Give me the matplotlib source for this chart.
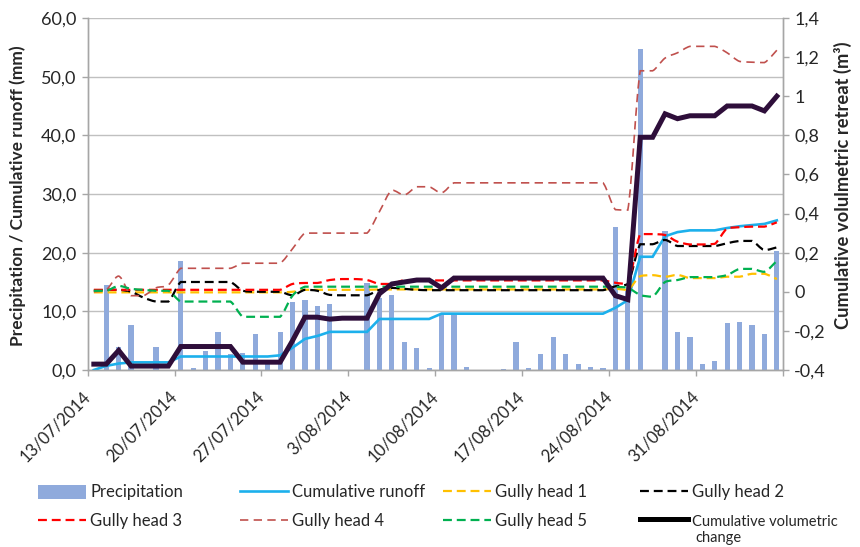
import numpy as np
import matplotlib
matplotlib.use("Agg")
import matplotlib.pyplot as plt
from matplotlib.path import Path
from matplotlib.patches import PathPatch, Patch
from matplotlib.lines import Line2D
from matplotlib.transforms import ScaledTranslation

plt.rcParams['font.family'] = ['Lato', 'DejaVu Sans']

# Daily series, 13/07/2014 .. 06/09/2014 (56 days)
date_labels = ["13/07/2014", "20/07/2014", "27/07/2014", "3/08/2014",
               "10/08/2014", "17/08/2014", "24/08/2014", "31/08/2014"]

precipitation = [0.0, 14.5, 4.0, 7.7, 0.0, 4.0, 0.0, 18.6, 0.3, 3.2,
                 6.5, 2.7, 2.9, 6.2, 1.2, 6.5, 11.6, 12.0, 10.9, 11.2,
                 0.0, 0.0, 14.9, 12.2, 12.8, 4.7, 3.8, 0.3, 9.4, 9.4,
                 0.5, 0.0, 0.0, 0.2, 4.8, 0.3, 2.8, 5.7, 2.7, 1.0,
                 0.5, 0.3, 24.3, 13.5, 54.8, 0.0, 23.7, 6.4, 5.6, 1.1,
                 1.5, 8.0, 8.2, 7.7, 6.2, 20.3]

cumulative_runoff = [0.0, 0.7, 1.1, 1.3, 1.3, 1.3, 1.3, 2.3, 2.3, 2.3,
                     2.3, 2.3, 2.3, 2.3, 2.3, 2.5, 3.8, 5.3, 5.8, 6.5,
                     6.5, 6.5, 6.5, 8.7, 8.7, 8.7, 8.7, 8.7, 9.6, 9.6,
                     9.6, 9.6, 9.6, 9.6, 9.6, 9.6, 9.6, 9.6, 9.6, 9.6,
                     9.6, 9.6, 10.6, 11.9, 19.3, 19.3, 22.8, 23.5, 23.8, 23.8,
                     23.8, 24.2, 24.5, 24.7, 24.9, 25.5]

gully_head_1 = [-0.003] * 16 + [0.0, 0.01, 0.01, 0.01, 0.01, 0.01, 0.01] + \
               [0.012] * 19 + [0.015, 0.01, 0.08, 0.085, 0.077, 0.086, 0.07,
                               0.07, 0.07, 0.077, 0.077, 0.092, 0.092, 0.065]

gully_head_2 = [0.005, 0.01, 0.01, 0.0, -0.03, -0.05, -0.05, 0.05, 0.05, 0.05,
                0.05, 0.05, 0.005, 0.0, 0.0, 0.0, -0.018, 0.01, 0.005, -0.016,
                -0.018, -0.018, -0.018, 0.01, 0.02, 0.015, 0.01] + \
               [0.008] * 15 + [0.028, 0.04, 0.243, 0.243, 0.265, 0.234, 0.234,
                               0.234, 0.234, 0.248, 0.26, 0.26, 0.213, 0.227]

gully_head_3 = [0.01] * 16 + [0.04, 0.045, 0.045, 0.06, 0.065, 0.065, 0.06,
                              0.04, 0.04, 0.06] + \
               [0.058] * 16 + [0.046, 0.04, 0.295, 0.295, 0.29, 0.256, 0.242,
                               0.242, 0.245, 0.324, 0.33, 0.333, 0.333, 0.355]

gully_head_4 = [0.0, 0.01, 0.08, -0.02, -0.02, 0.02, 0.035, 0.12, 0.12, 0.12,
                0.12, 0.12, 0.146, 0.146, 0.146, 0.146, 0.22, 0.30, 0.30, 0.30,
                0.30, 0.30, 0.30, 0.41, 0.52, 0.495, 0.537, 0.537, 0.506, 0.557] + \
               [0.557] * 12 + [0.42, 0.418, 1.13, 1.13, 1.195, 1.222, 1.255,
                               1.255, 1.255, 1.222, 1.178, 1.174, 1.172, 1.235]

gully_head_5 = [0.005, 0.005, 0.03, 0.015, 0.01, 0.005, 0.005, -0.05, -0.05, -0.05,
                -0.05, -0.05, -0.128, -0.128, -0.128, -0.128, -0.02] + \
               [0.026] * 25 + [0.025, 0.02, -0.016, -0.025, 0.05, 0.06, 0.075,
                               0.075, 0.075, 0.086, 0.117, 0.117, 0.102, 0.158]

volumetric_change = [-0.37, -0.37, -0.30, -0.38, -0.38, -0.38, -0.38, -0.28, -0.28, -0.28,
                     -0.28, -0.28, -0.36, -0.36, -0.36, -0.36, -0.25, -0.13, -0.13, -0.14,
                     -0.135, -0.135, -0.135, -0.01, 0.04, 0.05, 0.06, 0.06, 0.02, 0.07] + \
                    [0.07] * 12 + [-0.02, -0.04, 0.79, 0.79, 0.91, 0.885, 0.90,
                                   0.90, 0.90, 0.95, 0.95, 0.95, 0.925, 1.00]

days = np.arange(len(precipitation))

C_BAR = '#8FAADC'
C_RUNOFF = '#1CB0EC'
C_G1 = '#FFC000'
C_G2 = '#000000'
C_G3 = '#FF0000'
C_G4 = '#C0504D'
C_G5 = '#00B050'
C_VOL = '#2E0E3A'
C_AXIS = '#A6A6A6'
C_TEXT = '#262626'


def smooth_path(x, y):
    """Cubic Bezier through the points (spreadsheet 'smoothed line'),
    with control points kept inside each segment's value range."""
    x = np.asarray(x, float)
    y = np.asarray(y, float)
    n = len(x)
    verts = [(x[0], y[0])]
    codes = [Path.MOVETO]
    for i in range(n - 1):
        xp, yp = (x[i - 1], y[i - 1]) if i > 0 else (x[i], y[i])
        xn, yn = (x[i + 2], y[i + 2]) if i + 2 < n else (x[i + 1], y[i + 1])
        lo, hi = min(y[i], y[i + 1]), max(y[i], y[i + 1])
        c1y = np.clip(y[i] + (y[i + 1] - yp) / 6.0, lo, hi)
        c2y = np.clip(y[i + 1] - (yn - y[i]) / 6.0, lo, hi)
        c1 = (x[i] + (x[i + 1] - xp) / 6.0, c1y)
        c2 = (x[i + 1] - (xn - x[i]) / 6.0, c2y)
        verts += [c1, c2, (x[i + 1], y[i + 1])]
        codes += [Path.CURVE4] * 3
    return Path(verts, codes)


fig = plt.figure(figsize=(8.6, 5.47), dpi=100)
ax = fig.add_axes([0.1019, 0.3236, 0.8086, 0.6435])
ax2 = ax.twinx()

# primary axis: precipitation bars + cumulative runoff
ax.bar(days, precipitation, width=0.42, color=C_BAR, zorder=2)
ax.plot(days, cumulative_runoff, color=C_RUNOFF, lw=1.9, zorder=3,
        solid_joinstyle='miter')

ax.set_xlim(-0.5, 55.5)
ax.set_ylim(0, 60)
ax.set_yticks(np.arange(0, 61, 10))
ax.set_yticklabels([f"{v:.1f}".replace('.', ',') for v in np.arange(0, 61, 10)])
ax.grid(axis='y', color='#C0C0C0', lw=1.0, zorder=0)
ax.set_axisbelow(True)

xt = np.arange(-0.5, 56, 7)
ax.set_xticks(xt)
ax.set_xticklabels(date_labels + [''], rotation=45, ha='right', va='center',
                   rotation_mode='anchor')
off = ScaledTranslation(23 / 100, 0, fig.dpi_scale_trans)
for lab in ax.get_xticklabels():
    lab.set_transform(lab.get_transform() + off)

# secondary axis: gully heads + cumulative volumetric change
ax2.set_ylim(-0.4, 1.4)
rt = np.round(np.arange(-0.4, 1.41, 0.2), 1)
ax2.set_yticks(rt)
ax2.set_yticklabels([(f"{v:g}".replace('.', ',') if abs(v) > 1e-9 else "0") for v in rt])

gully = [(gully_head_1, C_G1, 1.6, (4, 2.2)),
         (gully_head_2, C_G2, 1.6, (4, 2.2)),
         (gully_head_3, C_G3, 1.6, (4, 2.2)),
         (gully_head_4, C_G4, 1.2, (5, 3.2)),
         (gully_head_5, C_G5, 1.6, (4, 2.2))]
for vals, col, lw, dash in gully:
    ax2.add_patch(PathPatch(smooth_path(days, vals), fill=False, edgecolor=col,
                            lw=lw, linestyle=(0, dash), capstyle='butt', zorder=3))

ax2.plot(days, volumetric_change, color=C_VOL, lw=3.6, zorder=5,
         solid_joinstyle='miter', solid_capstyle='projecting')

for a in (ax, ax2):
    for s in a.spines.values():
        s.set_color(C_AXIS)
        s.set_linewidth(1.0)
    a.spines['top'].set_visible(False)
    a.tick_params(colors=C_AXIS, labelcolor=C_TEXT, length=4, width=1.0)

ax.tick_params(axis='y', labelsize=13, pad=4)
ax.tick_params(axis='x', labelsize=12, pad=13, length=4)
ax2.tick_params(axis='y', labelsize=13, pad=4)

fig.text(0.021, 0.642, "Precipitation / Cumulative runoff (mm)", rotation=90,
         ha='center', va='center', fontsize=12.5, fontweight='bold', color=C_TEXT)
fig.text(0.980, 0.662, "Cumulative volulmetric retreat (m³)", rotation=90,
         ha='center', va='center', fontsize=13.2, fontweight='bold', color=C_TEXT)

# legend, four columns of two rows
h_pre = Patch(facecolor=C_BAR, edgecolor='none')
h_run = Line2D([], [], color=C_RUNOFF, lw=1.9)
h_g = [Line2D([], [], color=c, lw=lw, linestyle=(0, d)) for _, c, lw, d in gully]
h_vol = Line2D([], [], color='#000000', lw=3.6)

columns = [
    (0.044, [h_pre, h_g[2]], ["Precipitation", "Gully head 3"]),
    (0.279, [h_run, h_g[3]], ["Cumulative runoff", "Gully head 4"]),
    (0.515, [h_g[0], h_g[4]], ["Gully head 1", "Gully head 5"]),
    (0.744, [h_g[1], h_vol], ["Gully head 2", "Cumulative volumetric"]),
]
for x0, hs, ls in columns:
    leg = fig.legend(hs, ls, loc='upper left', bbox_to_anchor=(x0, 0.1143),
                     bbox_transform=fig.transFigure, frameon=False, fontsize=12,
                     handlelength=2.9, handletextpad=0.25, borderpad=0,
                     borderaxespad=0, labelspacing=0.75, handleheight=0.9)
    for t in leg.get_texts():
        t.set_color(C_TEXT)
    if ls[1] == "Cumulative volumetric":
        leg.get_texts()[1].set_fontsize(10.5)
fig.text(0.808, 0.0165, "change", fontsize=10.5, color=C_TEXT, ha='left', va='center')

fig.savefig("out.png", dpi=100)
